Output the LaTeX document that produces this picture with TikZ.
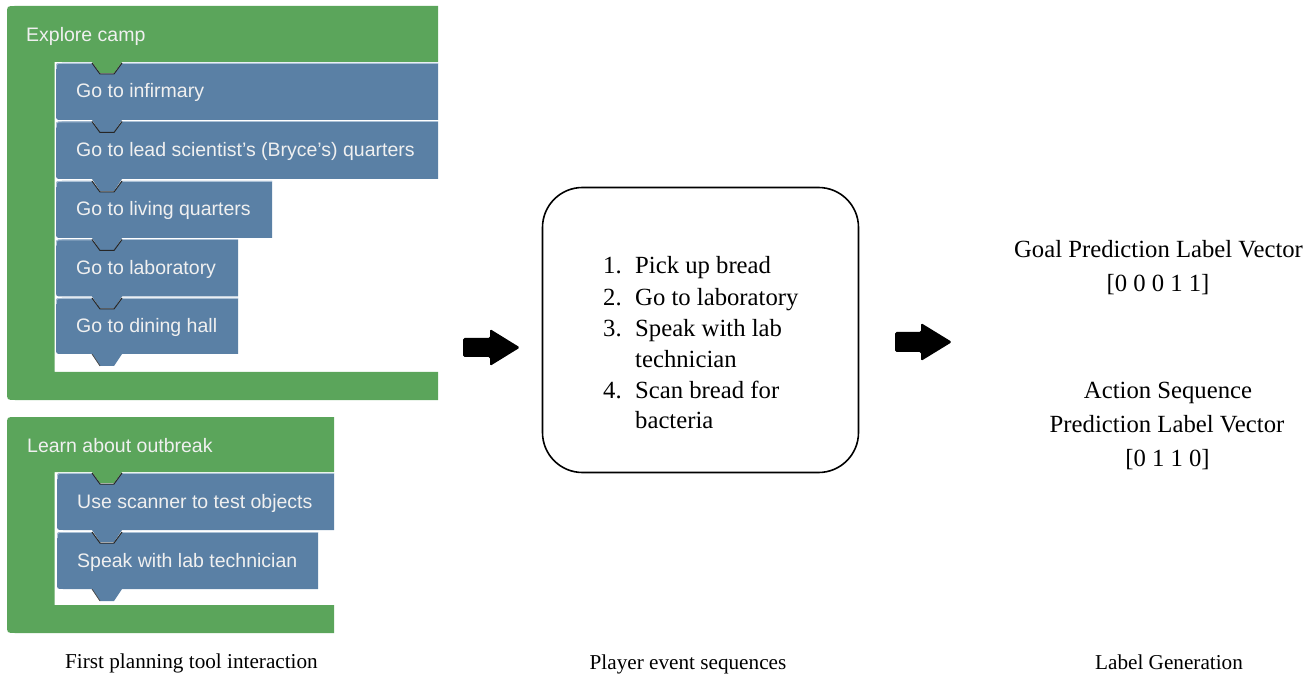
\documentclass[tikz,border=0pt]{standalone}
\usepackage{fontspec}
\setmainfont{Liberation Serif}
\newfontfamily\blkfont{Liberation Sans}
\definecolor{blockgreen}{RGB}{91,165,91}
\definecolor{blockblue}{RGB}{90,128,165}
\definecolor{blockedge}{RGB}{170,192,214}
\definecolor{blocktext}{RGB}{240,240,240}
\newcommand{\greenblk}[6]{% x0,y0,x1,y1,header bottom,band top ; arm right = x0+47
  \fill[blockgreen] (#3,#2) -- (#1+8,#2) .. controls (#1,#2) .. (#1,#2+8) -- (#1,#4-8) .. controls (#1,#4) .. (#1+8,#4) -- (#3,#4) -- (#3,#6) -- (#1+47.5,#6) -- (#1+47.5,#5) -- (92,#5) -- (100,#5+11) -- (114,#5+11) -- (122,#5) -- (#3,#5) -- cycle;}
\newcommand{\blueblk}[5]{% x0,y0,x1,y1
  \fill[blockblue] (#1,#2+6) .. controls (#1,#2) .. (#1+6,#2) -- (92,#2) -- (100,#2+11) -- (114,#2+11) -- (122,#2) -- (#3,#2) -- (#3,#4) -- (122,#4) -- (114,#4+12) -- (100,#4+12) -- (92,#4) -- (#1+6,#4) .. controls (#1,#4) .. (#1,#4-6) -- cycle;
  \draw[blockedge,line width=0.8] (#1+0.4,#2+6) .. controls (#1+0.4,#2+0.4) .. (#1+6,#2+0.4) -- (92,#2+0.4);
  \draw[blockedge,line width=0.8] (122,#2+0.4) -- (#3,#2+0.4);
  \draw[black!85,line width=1] (92,#2) -- (100,#2+11) -- (114,#2+11) -- (122,#2);}
\tikzset{
  btxt/.style={font=\blkfont\fontsize{19.5}{22}\selectfont, text=blocktext, inner sep=0pt, anchor=base west},
  stxt/.style={font=\fontsize{24.7}{28}\selectfont, inner sep=0pt},
  captxt/.style={font=\fontsize{21.2}{24}\selectfont, inner sep=0pt, anchor=base},
  blockarrow/.style={fill=black, rounded corners=1.5}
}
\begin{document}
\begin{tikzpicture}[x=1pt,y=-1pt]
\useasboundingbox (0,0) rectangle (1307,676);
% ---------- first planning block ----------
\greenblk{7}{6}{438}{400}{62}{372}
\blueblk{56}{63}{438}{120}{1}
\blueblk{56}{121.5}{438}{179}{1}
\blueblk{56}{181}{272}{238}{1}
\blueblk{56}{239.5}{238}{296.5}{1}
\blueblk{56}{298}{238}{354}{1}
\draw[black!70,line width=0.8] (92,354) -- (100,366);
\node[btxt] (explore) at (26,42) {Explore camp};
\node[btxt] (b1) at (76,98) {Go to infirmary};
\node[btxt] (b2) at (76,157) {Go to lead scientist’s (Bryce’s) quarters};
\node[btxt] (b3) at (76,215.5) {Go to living quarters};
\node[btxt] (b4) at (76,274.5) {Go to laboratory};
\node[btxt] (b5) at (76,333) {Go to dining hall};
% ---------- second planning block ----------
\greenblk{7}{417}{334}{633}{472}{605}
\blueblk{57}{473}{334}{530}{1}
\blueblk{57}{532}{318}{589}{1}
\draw[black!70,line width=0.8] (92,589) -- (100,601);
\node[btxt] (learn) at (27,452) {Learn about outbreak};
\node[btxt] (c1) at (77,508.5) {Use scanner to test objects};
\node[btxt] (c2) at (77,567) {Speak with lab technician};
% ---------- event sequence box ----------
\node[draw, line width=1.6, rounded corners=40, minimum width=316, minimum height=285, inner sep=0pt] (box) at (700.5,330) {};
\node[stxt, anchor=base west] (n1) at (603,274) {1.};
\node[stxt, anchor=base west] (l1) at (635,274) {Pick up bread};
\node[stxt, anchor=base west] (n2) at (603,305.5) {2.};
\node[stxt, anchor=base west] (l2) at (635,305.5) {Go to laboratory};
\node[stxt, anchor=base west] (n3) at (603,336.5) {3.};
\node[stxt, anchor=base west] (l3) at (635,336.5) {Speak with lab};
\node[stxt, anchor=base west] (l3b) at (635,367) {technician};
\node[stxt, anchor=base west] (n4) at (603,398) {4.};
\node[stxt, anchor=base west] (l4) at (635,398) {Scan bread for};
\node[stxt, anchor=base west] (l4b) at (635,428.5) {bacteria};
% ---------- block arrows ----------
\fill[blockarrow] (463,338) -- (490,338) -- (490,329) -- (520,347.5) -- (490,366) -- (490,357) -- (463,357) -- cycle;
\fill[blockarrow] (895,332) -- (921,332) -- (921,323) -- (952,342) -- (921,361) -- (921,352) -- (895,352) -- cycle;
% ---------- labels ----------
\node[stxt, anchor=base] (g1) at (1158.5,258) {Goal Prediction Label Vector};
\node[stxt, anchor=base] (g2) at (1158,292) {[0 0 0 1 1]};
\node[stxt, anchor=base] (s1) at (1168,398) {Action Sequence};
\node[stxt, anchor=base] (s2) at (1167,432) {Prediction Label Vector};
\node[stxt, anchor=base] (s3) at (1167.5,466) {[0 1 1 0]};
% ---------- captions ----------
\node[captxt] (cap1) at (191.5,668) {First planning tool interaction};
\node[captxt] (cap2) at (688,669) {Player event sequences};
\node[captxt] (cap3) at (1169,669) {Label Generation};
\end{tikzpicture}
\end{document}
